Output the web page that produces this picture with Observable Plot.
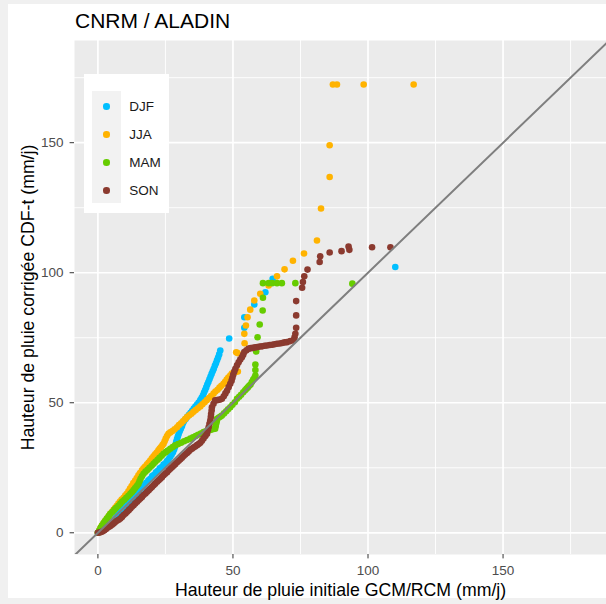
<!DOCTYPE html>
<html><head><meta charset="utf-8">
<script src="https://cdn.jsdelivr.net/npm/d3@7"></script>
<script src="https://cdn.jsdelivr.net/npm/@observablehq/plot@0.6"></script>
<style>
html,body{margin:0;padding:0;}
body{width:606px;height:604px;background:#F0F0F0;position:relative;overflow:hidden;font-family:"Liberation Sans",Arial,sans-serif;}
#card{position:absolute;left:8px;top:4px;width:598px;height:594px;background:#fff;}
#title{position:absolute;left:75px;top:8.7px;font-size:21px;line-height:24px;color:#000;white-space:nowrap;}
#chart{position:absolute;left:0;top:40px;}
#legend{position:absolute;left:84px;top:74.3px;width:85.3px;height:138.4px;background:#fff;}
#keybg{position:absolute;left:8.3px;top:16.7px;width:28.7px;height:112.3px;background:#F2F2F2;}
.kdot{position:absolute;width:6.6px;height:6.6px;border-radius:50%;}
.klab{position:absolute;font-size:13.5px;line-height:16px;color:#1A1A1A;white-space:nowrap;}
</style>
</head>
<body>
<div id="card"></div>
<div id="title">CNRM / ALADIN</div>
<div id="chart"></div>
<div id="legend"><div id="keybg"></div></div>
<script>
// ---- data: [initial GCM/RCM, corrected CDF-t] (mm/j) ----
const seasons = ["DJF", "JJA", "MAM", "SON"];
const seasonColors = ["#00BFFF", "#FFB300", "#66CC00", "#8B3A2F"];

const djfPts = [[0,0],[0.6,0.7],[1.3,1.2],[2,2.2],[2.6,2.7],[3.3,3.5],[4,4.1],[4.7,4.9],[5.4,5.5],[6.1,6.4],[6.8,7],[7.5,7.9],[8.2,8.5],[8.9,9.3],[9.6,9.9],[10.3,10.8],[11,11.4],[11.7,12.2],[12.4,12.8],[13.1,13.7],[13.8,14.3],[14.5,15.2],[15.2,15.9],[15.9,16.9],[16.6,17.6],[17.3,18.6],[18,19.3],[18.7,20.2],[19.4,20.8],[20.1,21.8],[20.8,22.3],[21.5,23.3],[22.2,23.8],[22.9,24.8],[23.6,25.3],[24.3,26.2],[25,26.7],[25.6,27.6],[26.2,28.4],[26.8,29.2],[27.3,30.1],[27.8,31],[28.2,32],[28.5,33],[28.8,34],[29,35],[29.3,36],[29.6,37],[29.9,38],[30.3,39],[30.7,40],[31.1,41],[31.5,42.1],[31.9,43],[32.5,43.8],[33.1,44.6],[33.7,45.4],[34.3,46.1],[34.9,46.9],[35.5,47.8],[36.1,48.5],[36.7,49.3],[37.3,50.1],[37.9,51],[38.4,51.9],[38.9,52.9],[39.3,53.9],[39.7,54.9],[40.1,55.9],[40.5,57],[40.9,58],[41.3,59],[41.7,60.1],[42.1,61.1],[42.5,62.1],[42.9,63.1],[43.3,64.2],[43.7,65.2],[44.1,66.3],[44.5,67.4],[44.9,68.6],[45.3,70.1],[48.6,74.7],[54.2,78.8],[54.2,82.9],[57.9,87.8],[62,92.5],[64.7,97.7],[110.1,102.2]];

const jjaPts = [[0,0],[0.5,0.9],[1,1.9],[1.5,2.8],[2,3.5],[2.5,4.3],[3.1,5],[3.6,5.8],[4.1,6.5],[4.6,7.3],[5.2,8],[5.8,8.8],[6.4,9.6],[7,10.4],[7.6,11.2],[8.2,12],[8.8,12.8],[9.5,13.5],[10.1,14.3],[10.7,15],[11.3,16],[11.9,17],[12.5,18],[13.1,19.1],[13.8,20.1],[14.4,21],[15,22.1],[15.6,23],[16.3,24],[16.9,24.8],[17.5,25.5],[18.2,26.3],[18.8,27],[19.4,27.8],[20,28.6],[20.6,29.4],[21.2,30.2],[21.8,30.9],[22.4,31.7],[22.9,32.4],[23.4,33],[23.9,33.7],[24.3,34.2],[24.7,35.2],[25.1,36.2],[25.6,37.2],[26.1,38.1],[26.8,38.6],[27.6,39.1],[28.4,39.8],[29.3,40.6],[30,41.4],[30.8,42.1],[31.5,42.9],[32.3,43.7],[33,44.5],[33.8,45.2],[34.6,45.8],[35.4,46.5],[36.2,47.2],[37,47.9],[37.9,48.6],[38.7,49.4],[39.5,50.2],[40.3,51],[41.1,51.8],[41.9,52.6],[42.8,53.5],[43.5,54.3],[44.3,55],[45,55.8],[45.7,56.5],[46.5,57.3],[47.1,58.1],[47.7,58.9],[48.3,59.7],[49,60.5],[49.6,61.2],[50.3,61.5],[51,61.8],[51.8,62],[51.2,69.4],[51.7,69.1],[54.3,72.9],[54.2,76.5],[54.8,79.7],[55.4,82.9],[56.4,85.8],[57.9,89.3],[60.1,91.9],[63.2,95.1],[66.3,98.6],[69.1,101.3],[72.2,104.6],[76.3,107.4],[81.1,112.4],[82.6,124.7],[85.8,136.8],[85.8,149],[87,172.4],[88.5,172.4],[98.4,172.4],[116.9,172.4]];

const mamPts = [[0,0],[0.5,0.9],[1,1.9],[1.5,2.8],[2.1,3.7],[2.7,4.6],[3.3,5.5],[4,6.4],[4.6,7.3],[5.4,8.1],[6.1,8.9],[6.8,9.6],[7.6,10.4],[8.3,11.2],[9,12],[9.8,12.7],[10.5,13.5],[11.3,14.2],[12,15],[12.6,15.7],[13.2,16.4],[13.8,17.2],[14.4,18],[15,18.8],[15.4,19.8],[15.8,20.8],[16.3,21.7],[16.9,22.7],[17.6,23.5],[18.4,24.2],[19.1,25],[19.9,25.8],[20.6,26.5],[21.3,27.3],[22.1,28.1],[22.8,28.8],[23.6,29.6],[24.3,30.4],[25.1,31],[25.9,31.6],[26.8,32.3],[27.7,33],[28.6,33.6],[29.7,34.1],[30.8,34.6],[31.9,35.2],[33,35.7],[34.2,36.2],[35.2,36.7],[36.2,37.2],[37.1,37.7],[38.1,38.2],[39.1,38.7],[40,39],[40.8,39.2],[41.6,39.5],[42.5,39.8],[43.4,40],[43.6,41],[43.8,42],[44,42.9],[44.1,43.8],[44.8,44.3],[45.4,44.7],[45.9,45.1],[46.7,45.9],[47.5,46.7],[48.2,47.5],[49,48.3],[49.8,49.2],[50.7,50.2],[51.5,51.5],[52.3,52.3],[53,53.1],[53.8,54],[54.5,54.8],[55,55.4],[55.5,55.9],[56,56.5],[56.5,57],[57,58],[57.5,58.9],[58,59.7],[58.3,60.5],[58.3,62.6],[58.3,64.7],[58.6,69.7],[59.1,75.2],[59.9,80.1],[61,85.5],[61.1,90.4],[61.1,96],[63.2,96],[64.5,96],[66.3,96],[68.1,96],[73.1,96],[94.2,95.8]];

const sonPts = [[0,0],[0.6,0.1],[1.2,0.3],[1.8,0.6],[2.4,1],[3,1.5],[3.5,1.9],[4.1,2.3],[4.6,2.6],[5.2,3.1],[5.8,3.6],[6.4,4.1],[7,4.6],[7.7,5],[8.3,5.5],[8.9,6.1],[9.5,6.8],[10.2,7.4],[10.8,8.1],[11.4,8.7],[12,9.3],[12.6,10],[13.2,10.6],[13.8,11.3],[14.5,11.9],[15.1,12.6],[15.7,13.2],[16.3,13.8],[16.9,14.5],[17.6,15.1],[18.2,15.8],[18.8,16.4],[19.4,17],[20,17.6],[20.6,18.3],[21.2,18.9],[21.9,19.6],[22.5,20.2],[23.1,20.8],[23.7,21.4],[24.3,22.1],[24.9,22.7],[25.6,23.3],[26.2,24],[26.8,24.6],[27.4,25.2],[28,25.8],[28.6,26.4],[29.3,27.1],[29.9,27.7],[30.5,28.3],[31.1,28.9],[31.7,29.5],[32.3,30.1],[33,30.7],[33.6,31.3],[34.2,31.9],[34.8,32.3],[35.4,32.8],[36,33.2],[36.7,33.7],[37.3,34.1],[37.9,34.6],[38.5,35.4],[39.1,36.3],[39.8,37.2],[40.4,38.1],[40.7,39.4],[41,40.6],[41.3,41.9],[41.6,43.2],[41.8,44.5],[41.9,45.7],[42.1,47],[42.2,48.3],[42.8,49.6],[43.4,50.9],[44.1,51],[45,51.2],[45.9,51.5],[46.6,52.5],[47.2,53.6],[47.8,54.6],[48.4,56],[49,57.3],[49.5,58.5],[49.8,59.6],[50.1,60.8],[50.5,62],[50.9,63.1],[51.5,64.4],[52.1,65.6],[52.7,66.6],[53.3,67.5],[53.8,68.5],[54.2,69.5],[55,70.2],[55.8,70.8],[56.6,71],[57.4,71.1],[58.2,71.3],[58.9,71.4],[59.9,71.6],[60.8,71.7],[61.7,71.9],[62.6,72],[63.6,72.2],[64.5,72.3],[65.4,72.5],[66.3,72.7],[67.3,72.8],[68.2,73],[69.1,73.2],[70,73.3],[71.2,73.7],[72.4,74],[72.8,75.2],[73.1,76.5],[73.4,78.8],[73.4,83.6],[73.4,89.1],[75.6,94.2],[75.9,96.4],[76.4,98.6],[77.6,101.2],[82.1,104.1],[82.3,106.3],[85.8,107.8],[90.2,108.3],[92.8,110.1],[93.1,108.8],[101.5,109.8],[108.3,109.8]];

const xMajor = [0, 50, 100, 150];
const xMinor = [25, 75, 125, 175];
const yMajor = [0, 50, 100, 150];
const yMinor = [25, 75, 125, 175];
const xTitle = "Hauteur de pluie initiale GCM/RCM (mm/j)";
const yTitle = "Hauteur de pluie corrigée CDF-t (mm/j)";
const xDomain = [-8.67, 188.3];
const yDomain = [-8.35, 189.3];

// ---- build table ----
const series = [djfPts, jjaPts, mamPts, sonPts];
const rows = seasons.flatMap((s, i) => series[i].map(([x, y]) => ({season: s, x, y})));
const diag = [-20, 200]; // y = x reference line

const plot = Plot.plot({
  width: 606,
  height: 564,
  marginLeft: 74,
  marginRight: 0,
  marginTop: 0,
  marginBottom: 50,
  style: {fontFamily: "'Liberation Sans', Arial, sans-serif", background: "transparent", overflow: "visible"},
  x: {domain: xDomain},
  y: {domain: yDomain},
  color: {domain: seasons, range: seasonColors},
  marks: [
    Plot.frame({fill: "#EBEBEB", stroke: null}),
    Plot.ruleX(xMinor, {x: d => d, stroke: "white", strokeWidth: 0.9}),
    Plot.ruleY(yMinor, {y: d => d, stroke: "white", strokeWidth: 0.9}),
    Plot.ruleX(xMajor, {x: d => d, stroke: "white", strokeWidth: 1.7}),
    Plot.ruleY(yMajor, {y: d => d, stroke: "white", strokeWidth: 1.7}),
    Plot.dot(rows, {x: "x", y: "y", fill: "season", r: 3.3, stroke: null}),
    Plot.line(diag, {x: d => d, y: d => d, stroke: "#7F7F7F", strokeWidth: 2, clip: true}),
    Plot.axisX(xMajor, {label: null, tickSize: 4.4, tickPadding: 7, fontSize: 13.5, stroke: "#333333", fill: "#4D4D4D"}),
    Plot.axisY(yMajor, {label: null, tickSize: 4.4, tickPadding: 6.5, fontSize: 13.5, stroke: "#333333", fill: "#4D4D4D"}),
    Plot.text([xTitle], {text: d => d, frameAnchor: "bottom", dy: 41.5, lineAnchor: "bottom", textAnchor: "middle", fontSize: 17.7, fill: "#000"}),
    Plot.text([yTitle], {text: d => d, frameAnchor: "left", dx: -40.5, rotate: -90, lineAnchor: "bottom", textAnchor: "middle", fontSize: 17.7, fill: "#000"})
  ]
});
document.getElementById("chart").appendChild(plot);

// ---- legend ----
const legend = document.getElementById("legend");
seasons.forEach((s, i) => {
  const cy = 32.4 + i * 28;
  const dot = document.createElement("div");
  dot.className = "kdot";
  dot.style.left = (22.7 - 3.3) + "px";
  dot.style.top = (cy - 3.3) + "px";
  dot.style.background = seasonColors[i];
  legend.appendChild(dot);
  const lab = document.createElement("div");
  lab.className = "klab";
  lab.style.left = "45.3px";
  lab.style.top = (cy - 7.85) + "px";
  lab.textContent = s;
  legend.appendChild(lab);
});
</script>
</body></html>
